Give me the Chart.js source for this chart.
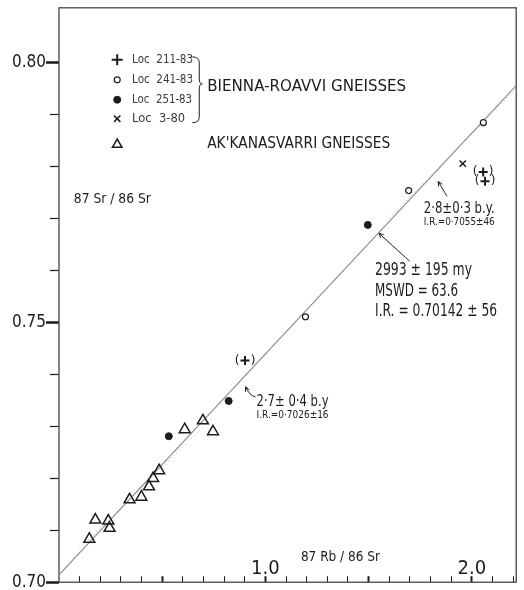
<!DOCTYPE html>
<html>
<head>
<meta charset="utf-8">
<script src="https://cdn.jsdelivr.net/npm/chart.js@4.4.1/dist/chart.umd.min.js"></script>
<style>
  html, body { margin: 0; padding: 0; background: #fff; }
  #wrap { width: 524px; height: 590px; position: relative; }
</style>
</head>
<body>
<div id="wrap"><canvas id="c"></canvas></div>
<script>
// 87Rb/86Sr (x) and 87Sr/86Sr (y) by locality
const loc211x = [2.055, 2.064, 0.901];
const loc211y = [0.7790, 0.7772, 0.7427];
const loc241x = [2.056, 1.694, 1.194];
const loc241y = [0.7885, 0.7754, 0.7511];
const loc251x = [1.496, 0.822, 0.532];
const loc251y = [0.7688, 0.7349, 0.7281];
const loc380x = [1.956];
const loc380y = [0.7806];
const akkX = [0.147, 0.176, 0.239, 0.245, 0.342, 0.399, 0.436, 0.456, 0.485, 0.609, 0.697, 0.746];
const akkY = [0.7083, 0.7120, 0.7118, 0.7104, 0.7159, 0.7164, 0.7184, 0.7200, 0.7215, 0.7294, 0.7311, 0.7290];

// isochrons: all Bienna-Roavvi samples (solid), upper and lower subsets (dotted)
const isoX = [0, 2.215];
const isoY = [0.70142, 0.7956];
const upperX = [1.60, 2.20];
const upperY = [0.7701, 0.7944];
const lowerX = [0.10, 0.75];
const lowerY = [0.7065, 0.7319];

// axis ranges and labelled ticks
const xRange = [0, 2.215];
const yRange = [0.70, 0.8106];
const xTickValues = [1.0, 2.0];
const xTickLabels = ['1.0', '2.0'];
const yTickValues = [0.70, 0.75, 0.80];
const yTickLabels = ['0.70', '0.75', '0.80'];

const INK = '#1c1c1c';
const FONT = '"DejaVu Sans", "Liberation Sans", sans-serif';
const NARROW = '"DejaVu Sans Condensed", "DejaVu Sans", sans-serif';
const pts = (xs, ys) => xs.map((x, i) => ({ x: x, y: ys[i] }));
const near = (a, b) => Math.abs(a - b) < 1e-6;

const series = [
  { label: 'Loc  211-83', data: pts(loc211x, loc211y), pointStyle: 'cross', pointRadius: 4.5,
    borderColor: INK, backgroundColor: INK, borderWidth: 2 },
  { label: 'Loc  241-83', data: pts(loc241x, loc241y), pointStyle: 'circle', pointRadius: 3,
    borderColor: INK, backgroundColor: '#fff', borderWidth: 1.2 },
  { label: 'Loc  251-83', data: pts(loc251x, loc251y), pointStyle: 'circle', pointRadius: 3.5,
    borderColor: INK, backgroundColor: INK, borderWidth: 1 },
  { label: 'Loc  3-80', data: pts(loc380x, loc380y), pointStyle: 'crossRot', pointRadius: 4.5,
    borderColor: INK, backgroundColor: INK, borderWidth: 1.5 },
  { label: "AK'KANASVARRI", data: pts(akkX, akkY), pointStyle: 'triangle', pointRadius: 6.3,
    borderColor: INK, backgroundColor: 'rgba(0,0,0,0)', borderWidth: 1.5 }
];

const lines = [
  { type: 'line', label: 'isochron', data: pts(isoX, isoY), borderColor: '#8a8a8a', borderWidth: 1.1,
    pointRadius: 0, showLine: true, order: 5 },
  { type: 'line', label: 'upper', data: pts(upperX, upperY), borderColor: '#a8a8a8', borderWidth: 1,
    borderDash: [1, 3], pointRadius: 0, showLine: true, order: 6 },
  { type: 'line', label: 'lower', data: pts(lowerX, lowerY), borderColor: '#a8a8a8', borderWidth: 1,
    borderDash: [1, 3], pointRadius: 0, showLine: true, order: 6 }
];

// text annotations in data units, with their lettered width in px
const notes = [
  { t: 'BIENNA-ROAVVI GNEISSES', x: 0.718, y: 0.79539, size: 15, w: 199 },
  { t: "AK'KANASVARRI GNEISSES", x: 0.718, y: 0.78426, size: 15, w: 183 },
  { t: '87 Sr / 86 Sr', x: 0.0718, y: 0.77370, size: 14.5, w: 77 },
  { t: '87 Rb / 86 Sr', x: 1.172, y: 0.70480, size: 14.5, w: 79 },
  { t: '2·8±0·3 b.y.', x: 1.767, y: 0.77198, size: 16, w: 71 },
  { t: 'I.R.=0·7055±46', x: 1.767, y: 0.76929, size: 11, w: 71 },
  { t: '2993 ± 195 my', x: 1.531, y: 0.76008, size: 17, w: 97 },
  { t: 'MSWD = 63.6', x: 1.531, y: 0.75605, size: 17, w: 83 },
  { t: 'I.R. = 0.70142 ± 56', x: 1.531, y: 0.75202, size: 17, w: 122 },
  { t: '2·7± 0·4 b.y', x: 0.957, y: 0.73474, size: 16, w: 72 },
  { t: 'I.R.=0·7026±16', x: 0.957, y: 0.73225, size: 11, w: 72 }
];
const arrows = [
  { from: [1.880, 0.77428], to: [1.837, 0.77716] },
  { from: [1.699, 0.76180], to: [1.550, 0.76718] },
  { from: [0.952, 0.73570], to: [0.904, 0.73762], bend: true }
];
const legendRows = [0.80058, 0.79674, 0.79290, 0.78925, 0.78426];
const legendTextW = [61, 61, 60, 53];
const legendMarkX = 0.282, legendTextX = 0.354;
const brace = { x: 0.6555, tip: 0.694, top: 0.80115, mid: 0.79597, bottom: 0.78848 };

function fitText(ctx, t, x, y, w) {
  const m = ctx.measureText(t).width;
  ctx.save();
  ctx.translate(x, y);
  ctx.scale(w / m, 1);
  ctx.fillText(t, 0, 0);
  ctx.restore();
}

const decor = {
  id: 'decor',
  beforeDatasetsDraw(chart) {
    const { ctx, chartArea: a } = chart;
    ctx.save();
    ctx.strokeStyle = '#444';
    ctx.lineWidth = 1.3;
    ctx.strokeRect(a.left, a.top, a.right - a.left, a.bottom - a.top);
    ctx.restore();
  },
  afterDatasetsDraw(chart) {
    const { ctx, scales } = chart;
    const X = v => scales.x.getPixelForValue(v);
    const Y = v => scales.y.getPixelForValue(v);
    ctx.save();
    ctx.fillStyle = INK;
    ctx.textBaseline = 'middle';
    ctx.textAlign = 'left';
    notes.forEach(n => {
      ctx.font = n.size + 'px ' + FONT;
      fitText(ctx, n.t, X(n.x), Y(n.y), n.w);
    });

    // parentheses round the Loc 211-83 points
    ctx.font = '12px ' + FONT;
    ctx.textAlign = 'center';
    series[0].data.forEach(p => {
      ctx.fillText('(', X(p.x) - 8, Y(p.y));
      ctx.fillText(')', X(p.x) + 8, Y(p.y));
    });

    // arrows
    ctx.strokeStyle = INK;
    ctx.lineWidth = 1;
    arrows.forEach(ar => {
      const x1 = X(ar.from[0]), y1 = Y(ar.from[1]);
      const x2 = X(ar.to[0]), y2 = Y(ar.to[1]);
      const cx = ar.bend ? x1 - 6 : x1, cy = ar.bend ? y1 - 1 : y1;
      ctx.beginPath();
      ctx.moveTo(x1, y1);
      ctx.quadraticCurveTo(cx, cy, x2, y2);
      ctx.stroke();
      const ang = Math.atan2(y2 - cy, x2 - cx);
      const h = 5;
      ctx.beginPath();
      ctx.moveTo(x2 - h * Math.cos(ang - 0.45), y2 - h * Math.sin(ang - 0.45));
      ctx.lineTo(x2, y2);
      ctx.lineTo(x2 - h * Math.cos(ang + 0.45), y2 - h * Math.sin(ang + 0.45));
      ctx.stroke();
    });

    // legend
    const H = Chart.helpers;
    ctx.textAlign = 'left';
    series.forEach((s, i) => {
      const mx = X(legendMarkX), my = Y(legendRows[i]);
      ctx.fillStyle = s.backgroundColor;
      ctx.strokeStyle = s.borderColor;
      ctx.lineWidth = s.borderWidth;
      let r = s.pointRadius;
      if (s.pointStyle === 'cross') r += 1;
      if (s.pointStyle === 'triangle') r = 5.5;
      H.drawPoint(ctx, { pointStyle: s.pointStyle, radius: r, borderWidth: s.borderWidth, rotation: 0 }, mx, my);
      if (i < 4) {
        ctx.fillStyle = '#3a3a3a';
        ctx.font = '11.5px ' + FONT;
        fitText(ctx, s.label, X(legendTextX), my, legendTextW[i]);
      }
    });

    // brace joining the four Bienna-Roavvi localities
    const bx = X(brace.x), tx = X(brace.tip);
    const bt = Y(brace.top), bm = Y(brace.mid), bb = Y(brace.bottom);
    const cx = (bx + tx) / 2 + 1;
    ctx.strokeStyle = INK;
    ctx.lineWidth = 1;
    ctx.beginPath();
    ctx.moveTo(bx - 2, bt);
    ctx.quadraticCurveTo(cx, bt, cx, bt + 6);
    ctx.lineTo(cx, bm - 5);
    ctx.quadraticCurveTo(cx, bm, tx, bm);
    ctx.quadraticCurveTo(cx, bm, cx, bm + 5);
    ctx.lineTo(cx, bb - 6);
    ctx.quadraticCurveTo(cx, bb, bx - 2, bb);
    ctx.stroke();
    ctx.restore();
  }
};

new Chart(document.getElementById('c'), {
  type: 'scatter',
  data: { datasets: [...lines, ...series] },
  options: {
    responsive: true,
    maintainAspectRatio: false,
    animation: false,
    devicePixelRatio: 1,
    layout: { padding: { top: 7, right: 3, left: 0, bottom: 0 } },
    plugins: { legend: { display: false }, tooltip: { enabled: false } },
    scales: {
      x: {
        type: 'linear', position: 'bottom', min: xRange[0], max: xRange[1],
        afterBuildTicks: s => {
          const t = [];
          for (let k = 1; k <= 22; k++) t.push({ value: k / 10 });
          s.ticks = t;
        },
        afterFit: s => { s.height = 7; s.paddingLeft = 0; s.paddingRight = 0; },
        border: { display: false },
        grid: {
          drawOnChartArea: false, tickLength: -6, tickColor: INK,
          tickWidth: c => (Math.abs(c.tick.value * 2 - Math.round(c.tick.value * 2)) < 1e-6) ? 2 : 1
        },
        ticks: {
          mirror: true, autoSkip: false, maxRotation: 0, padding: 1, color: INK,
          font: { family: NARROW, size: 20, weight: '200' },
          callback: v => { const i = xTickValues.findIndex(t => near(t, v)); return i < 0 ? '' : xTickLabels[i]; }
        }
      },
      y: {
        type: 'linear', position: 'left', weight: 1, min: yRange[0], max: yRange[1],
        afterBuildTicks: s => { s.ticks = yTickValues.map(v => ({ value: v })); },
        afterFit: s => { s.width = 59; s.paddingTop = 0; s.paddingBottom = 0; },
        border: { display: false },
        grid: { drawOnChartArea: false, tickLength: 13, tickWidth: 2.5, tickColor: INK },
        ticks: {
          padding: 0, color: INK, autoSkip: false,
          font: { family: NARROW, size: 17, weight: '200' },
          callback: v => { const i = yTickValues.findIndex(t => near(t, v)); return i < 0 ? '' : yTickLabels[i]; }
        }
      },
      yMinor: {
        type: 'linear', position: 'left', weight: 0, min: yRange[0], max: yRange[1],
        afterBuildTicks: s => {
          const t = [];
          for (let k = 0; k <= 10; k++) t.push({ value: 0.70 + k / 100 });
          s.ticks = t;
        },
        afterFit: s => { s.width = 0; s.paddingTop = 0; s.paddingBottom = 0; },
        border: { display: false },
        grid: { drawOnChartArea: false, tickLength: 9, tickWidth: 1.2, tickColor: INK },
        ticks: { autoSkip: false, callback: () => '' }
      }
    }
  },
  plugins: [decor]
});
</script>
</body>
</html>
